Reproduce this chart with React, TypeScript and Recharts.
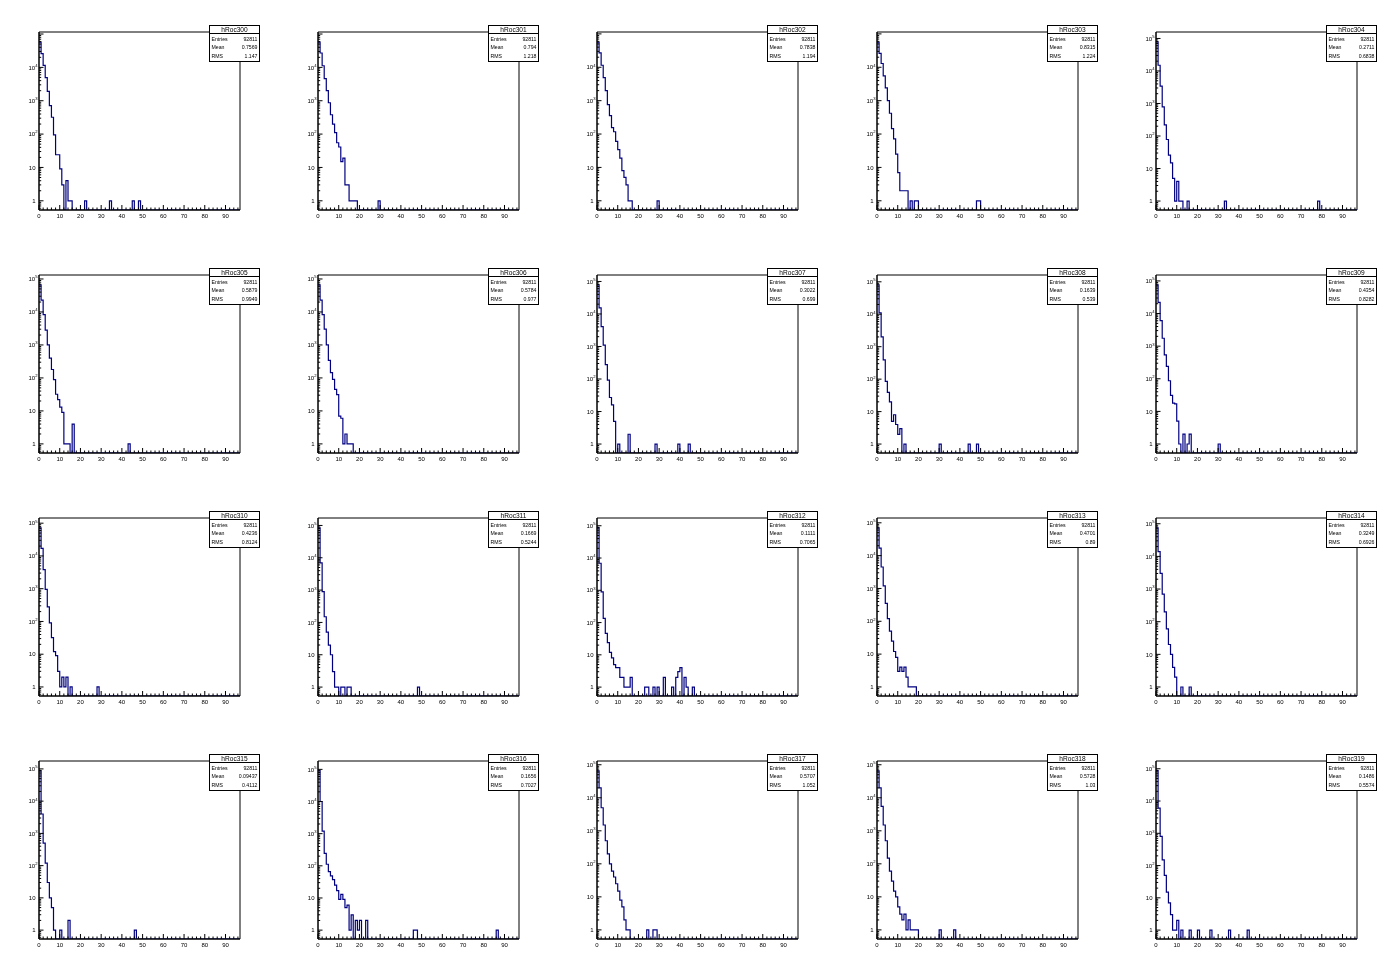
import { LineChart, Line, XAxis, YAxis, ReferenceArea } from "recharts";

// ---- histogram contents (bin k covers [k, k+1)) ----
// head: bins 0..n, tail: isolated [bin, count] entries further out
const h300 = [57500, 25700, 11500, 4900, 1900, 710, 320, 95, 24, 24, 9, 3, 0, 4, 1, 1];
const t300 = [[22, 1], [34, 1], [45, 1], [48, 1]];
const h301 = [57500, 27000, 11200, 4600, 2000, 870, 380, 200, 110, 55, 41, 15, 19, 3, 3, 1, 1, 1, 1];
const t301 = [[29, 1]];
const h302 = [57000, 27000, 11500, 4900, 2000, 760, 355, 155, 117, 60, 34, 19, 8, 5, 3, 1, 1];
const t302 = [[29, 1]];
const h303 = [57000, 26000, 13000, 5500, 2400, 1000, 420, 145, 72, 25, 7, 2, 2, 2, 2];
const t303 = [[16, 1], [18, 1], [19, 1], [48, 1], [49, 1]];
const h304 = [79000, 15000, 3400, 790, 220, 78, 26, 15, 5, 1, 4, 1, 1];
const t304 = [[15, 1], [33, 1], [78, 1]];
const h305 = [66000, 23000, 8300, 2800, 1000, 400, 180, 89, 32, 22, 13, 9, 1, 1, 1, 0, 4];
const t305 = [[43, 1]];
const h306 = [66000, 23000, 8300, 3000, 1000, 340, 144, 91, 45, 31, 7, 6, 1, 2, 1, 1, 1];
const t306: number[][] = [];
const h307 = [79000, 15500, 4100, 1100, 277, 93, 27, 16, 5];
const t307 = [[10, 1], [15, 2], [28, 1], [39, 1], [44, 1]];
const h308 = [81000, 11000, 2000, 390, 85, 39, 20, 5, 8, 4, 2, 3, 0, 1];
const t308 = [[30, 1], [44, 1], [48, 1]];
const h309 = [76000, 22000, 6100, 1750, 540, 240, 87, 31, 18, 17, 5, 1, 0, 2, 0, 1, 2];
const t309 = [[30, 1]];
const h310 = [72000, 17000, 3800, 950, 280, 90, 32, 12, 9, 3, 1, 2, 1, 2, 0, 1];
const t310 = [[28, 1]];
const h311 = [85000, 7000, 900, 150, 50, 20, 10, 3, 1, 1, 0, 1, 1, 0, 1];
const t311 = [[15, 1], [48, 1]];
const h312 = [87000, 6900, 890, 135, 46, 24, 12, 8, 5, 4, 4, 2, 2, 1, 1, 1, 2];
const t312 = [[23, 1], [24, 1], [27, 1], [29, 1], [32, 2], [36, 1], [38, 2], [39, 3], [40, 4], [42, 2], [43, 1], [46, 1]];
const h313 = [70000, 17000, 4500, 1200, 350, 120, 50, 25, 12, 8, 3, 4, 3, 4, 2, 1, 1, 1, 1];
const t313: number[][] = [];
const h314 = [75000, 14000, 3000, 700, 200, 60, 20, 10, 4, 2, 0, 0, 1];
const t314 = [[16, 1]];
const h315 = [88000, 4000, 500, 120, 30, 10, 5, 1, 0, 0, 1];
const t315 = [[14, 2], [46, 1]];
const h316 = [91000, 10000, 1200, 245, 112, 66, 49, 37, 25, 17, 9, 13, 9, 5, 6, 1, 3, 0, 2, 1, 2, 0, 0, 2];
const t316 = [[46, 1], [47, 1], [86, 1]];
const h317 = [65000, 20000, 5000, 1500, 500, 200, 100, 60, 40, 25, 15, 8, 5, 2, 1, 1];
const t317 = [[24, 1], [27, 1], [28, 1]];
const h318 = [65000, 20000, 5500, 1500, 500, 150, 60, 30, 15, 10, 5, 3, 2, 3, 1, 2, 1, 1, 1, 1];
const t318 = [[30, 1], [37, 1]];
const h319 = [87000, 6000, 800, 150, 50, 15, 7, 3, 1, 1, 2, 0, 1];
const t319 = [[16, 1], [20, 1], [26, 1], [35, 1], [44, 1]];

const heads = [h300, h301, h302, h303, h304, h305, h306, h307, h308, h309, h310, h311, h312, h313, h314, h315, h316, h317, h318, h319];
const tails = [t300, t301, t302, t303, t304, t305, t306, t307, t308, t309, t310, t311, t312, t313, t314, t315, t316, t317, t318, t319];

const names = ["hRoc300", "hRoc301", "hRoc302", "hRoc303", "hRoc304", "hRoc305", "hRoc306", "hRoc307", "hRoc308", "hRoc309",
  "hRoc310", "hRoc311", "hRoc312", "hRoc313", "hRoc314", "hRoc315", "hRoc316", "hRoc317", "hRoc318", "hRoc319"];
const entries = "92811";
const means = ["0.7569", "0.794", "0.7838", "0.8315", "0.2711", "0.5879", "0.5784", "0.3022", "0.1639", "0.4354",
  "0.4236", "0.1669", "0.1111", "0.4701", "0.3249", "0.09437", "0.1656", "0.5707", "0.5728", "0.1486"];
const rmss = ["1.147", "1.218", "1.194", "1.224", "0.6838", "0.9949", "0.977", "0.699", "0.539", "0.8282",
  "0.8124", "0.5244", "0.7065", "0.89", "0.6926", "0.4112", "0.7027", "1.052", "1.03", "0.5574"];

const NBINS = 97;
const Y_MIN = 0.53;
const X_TICKS = Array.from({ length: 49 }, (_, i) => i * 2);

const PAD_W = 279.2;
const PAD_H = 243;
const FONT = "'Liberation Sans', Arial, Helvetica, sans-serif";
const LINE = "#000080";

function logTicks(lo: number, hi: number) {
  const out: number[] = [];
  for (let e = -1; e <= 6; e++) {
    for (let m = 1; m <= 9; m++) {
      const v = m * Math.pow(10, e);
      if (v >= lo && v <= hi) out.push(v);
    }
  }
  return out;
}

function XTick(props: any) {
  const { x, y, payload } = props;
  const v = payload.value;
  const major = v % 10 === 0;
  return (
    <g>
      <line x1={x} x2={x} y1={y} y2={y - (major ? 5 : 2.5)} stroke="#000" strokeWidth={1} />
      {major && (
        <text x={x} y={y + 8} textAnchor="middle" fontSize={6} fontFamily={FONT} fill="#000">
          {v}
        </text>
      )}
    </g>
  );
}

function makeYTick(top: number) {
  return function YTick(props: any) {
    const { x, y, payload } = props;
    const v = payload.value;
    const e = Math.round(Math.log10(v));
    const major = Math.abs(v - Math.pow(10, e)) < 1e-9 * Math.pow(10, e);
    const showLabel = major && Math.log10(top) - e > 0.08;
    return (
      <g>
        <line x1={x} x2={x + (major ? 4.5 : 2.2)} y1={y} y2={y} stroke="#000" strokeWidth={1} />
        {showLabel && e <= 1 && (
          <text x={x - 3.5} y={y + 2.2} textAnchor="end" fontSize={6} fontFamily={FONT} fill="#000">
            {e === 0 ? "1" : "10"}
          </text>
        )}
        {showLabel && e > 1 && (
          <text x={x - 1.5} y={y + 2.2} textAnchor="end" fontSize={6} fontFamily={FONT} fill="#000">
            10
            <tspan dy={-2.8} fontSize={4.2}>{e}</tspan>
          </text>
        )}
      </g>
    );
  };
}

function Pad({ idx }: { idx: number }) {
  const col = idx % 5;
  const row = Math.floor(idx / 5);
  const counts = new Array(NBINS).fill(0);
  heads[idx].forEach((v, i) => (counts[i] = v));
  tails[idx].forEach(([b, v]) => (counts[b] = v));
  const maxV = Math.max(...counts);
  const top = maxV * 2;
  const data = counts.map((v, i) => ({ x: i, y: v > 0 ? v : Y_MIN }));
  data.push({ x: NBINS, y: Y_MIN });

  const left = Math.round(col * PAD_W);
  const topPx = row * PAD_H;

  return (
    <div style={{ position: "absolute", left, top: topPx, width: 279, height: PAD_H, willChange: "transform" }}>
      <LineChart width={279} height={PAD_H} data={data} margin={{ top: 32, right: 39, bottom: 0, left: 0 }}>
        <XAxis
          dataKey="x"
          type="number"
          domain={[0, NBINS]}
          ticks={X_TICKS}
          interval={0}
          height={33}
          tickSize={0}
          tickMargin={0}
          tickLine={false}
          axisLine={{ stroke: "#000" }}
          tick={<XTick />}
          allowDataOverflow
        />
        <YAxis
          dataKey="y"
          type="number"
          scale="log"
          domain={[Y_MIN, top]}
          ticks={logTicks(Y_MIN, top)}
          interval={0}
          width={39}
          tickSize={0}
          tickMargin={0}
          tickLine={false}
          axisLine={{ stroke: "#000" }}
          tick={makeYTick(top)}
          allowDataOverflow
        />
        <ReferenceArea x1={0} x2={NBINS} y1={Y_MIN} y2={top} fill="none" stroke="#000" strokeWidth={1} ifOverflow="visible" />
        <Line
          dataKey="y"
          type="stepAfter"
          stroke={LINE}
          strokeWidth={1.2}
          dot={false}
          activeDot={false}
          isAnimationActive={false}
        />
      </LineChart>
      <svg style={{ position: "absolute", left: 209, top: 25 }} width={52} height={38}>
        <rect x={0.5} y={0.5} width={50} height={36} fill="#fff" stroke="#000" strokeWidth={1} />
        <line x1={0.5} x2={50.5} y1={8.5} y2={8.5} stroke="#000" strokeWidth={1} />
        <text x={25.5} y={6.8} textAnchor="middle" fontSize={6.6} fontFamily={FONT} fill="#000">
          {names[idx]}
        </text>
        {[["Entries", entries], ["Mean", means[idx]], ["RMS", rmss[idx]]].map(([k, v], i) => (
          <g key={k}>
            <text x={2.5} y={15.5 + i * 8.6} fontSize={5.2} fontFamily={FONT} fill="#000">{k}</text>
            <text x={48.5} y={15.5 + i * 8.6} textAnchor="end" fontSize={5.2} fontFamily={FONT} fill="#000">{v}</text>
          </g>
        ))}
      </svg>
    </div>
  );
}

export default function App() {
  return (
    <div style={{ position: "absolute", left: 0, top: 0, width: 1396, height: 972, background: "#fff" }}>
      {names.map((_, i) => (
        <Pad key={i} idx={i} />
      ))}
    </div>
  );
}
